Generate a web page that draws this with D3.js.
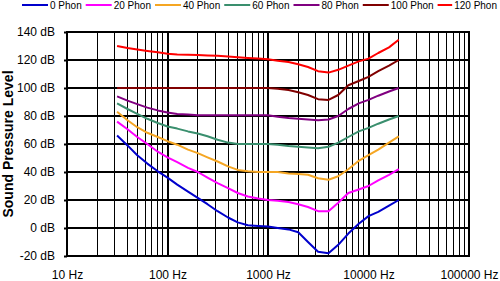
<!DOCTYPE html>
<html>
<head>
<meta charset="utf-8">
<script src="https://cdn.jsdelivr.net/npm/d3@7"></script>
<style>
  body { margin: 0; background: #fff; }
  svg { font-family: Arial, "Liberation Sans", sans-serif; }
</style>
</head>
<body>
<svg id="chart" width="500" height="281"></svg>
<script>
(function() {

    // frequencies in Hz (third octave points)
    var freqs = [31.5, 40, 50, 63, 80, 100, 125, 160, 200, 250, 315, 400, 500, 630, 800,
                 1000, 1250, 1600, 2000, 2500, 3150, 4000, 5000, 6300, 8000, 10000, 12500, 16000, 20000];

    var phon0   = [66, 59, 52, 46, 40.5, 36, 31, 26, 21.5, 17, 12, 7.5, 4, 2, 1.5,
                   1, 0, -1, -3, -10, -17, -18, -12, -4, 3, 8.5, 11.5, 16, 20];
    var phon20  = [76, 70.5, 65, 60, 54.5, 50.5, 47, 43, 40, 36, 32, 28.5, 25, 22.5, 21,
                   20, 19.5, 18.5, 17, 15, 12, 12, 18, 25, 27.5, 30, 34, 38, 42];
    var phon40  = [83, 77, 72, 68, 65, 62, 59.5, 56, 53.5, 50.5, 47.5, 44, 41.5, 40.5, 40,
                   40, 40, 39, 38.5, 38, 35.5, 34.5, 37, 42, 48, 52, 56, 61, 65.5];
    var phon60  = [89, 85, 81.5, 78, 75, 72.5, 71, 69, 67.5, 65.5, 63, 61, 60, 60, 60,
                   60, 59.5, 58.5, 58, 57.5, 57, 58, 61, 65, 69, 71.5, 74.5, 77.5, 80];
    var phon80  = [94, 91, 88.5, 86, 84, 82.5, 81.5, 81, 80.5, 80.5, 80.5, 80.5, 80.5, 80.5, 80.5,
                   80.5, 79.5, 78.5, 78, 77.5, 77, 77.5, 80, 85, 89, 91.5, 94.5, 97.5, 100];
    var phon100 = [100, 100, 100, 100, 100, 100, 100, 100, 100, 100, 100, 100, 100, 100, 100,
                   100, 99.5, 98.5, 97, 95, 92, 91.5, 95, 102, 105, 108, 112, 116, 120];
    var phon120 = [130, 128.5, 127.5, 126.5, 125.5, 124.5, 124, 123.7, 123.5, 123.3, 123, 122.5, 122, 121.5, 121,
                   120.5, 119.5, 118.5, 117, 115, 112, 111, 113, 116, 119, 121, 125, 129, 134.5];

    var names  = ["0 Phon", "20 Phon", "40 Phon", "60 Phon", "80 Phon", "100 Phon", "120 Phon"];
    var series = [phon0, phon20, phon40, phon60, phon80, phon100, phon120];
    var colors = ["#0000cc", "#ff00ff", "#f5a623", "#3a8f6e", "#800080", "#800000", "#ff0000"];

    var yTicks = [-20, 0, 20, 40, 60, 80, 100, 120, 140];
    var xTicks = [10, 100, 1000, 10000, 100000];

    var svg = d3.select("#chart");
    var left = 67, right = 469, top = 32, bottom = 256;

    var x = d3.scaleLog().domain([10, 100000]).range([left, right]);
    var y = d3.scaleLinear().domain([-20, 140]).range([bottom, top]);

    // vertical grid
    svg.append("g").selectAll("line")
        .data(x.ticks().filter(function(d) { return d > 10 && d < 100000; }))
        .enter().append("line")
        .attr("x1", function(d) { return x(d); })
        .attr("x2", function(d) { return x(d); })
        .attr("y1", top).attr("y2", bottom)
        .attr("stroke", "#000")
        .attr("stroke-width", function(d) { return xTicks.indexOf(d) >= 0 ? 2 : 1; })
        .attr("shape-rendering", "crispEdges");

    // horizontal grid
    svg.append("g").selectAll("line")
        .data(yTicks)
        .enter().append("line")
        .attr("x1", left).attr("x2", right)
        .attr("y1", function(d) { return y(d); })
        .attr("y2", function(d) { return y(d); })
        .attr("stroke", "#000")
        .attr("stroke-width", 2)
        .attr("shape-rendering", "crispEdges");

    svg.append("rect")
        .attr("x", left).attr("y", top)
        .attr("width", right - left).attr("height", bottom - top)
        .attr("fill", "none").attr("stroke", "#000").attr("stroke-width", 2)
        .attr("shape-rendering", "crispEdges");

    // axes
    var yAxis = svg.append("g")
        .attr("transform", "translate(" + left + ",0)")
        .call(d3.axisLeft(y).tickValues(yTicks).tickSize(3).tickPadding(9)
            .tickFormat(function(d) { return d + " dB"; }));
    var xAxis = svg.append("g")
        .attr("transform", "translate(0," + bottom + ")")
        .call(d3.axisBottom(x).tickValues(xTicks).tickSize(0).tickPadding(14)
            .tickFormat(function(d) { return d + " Hz"; }));

    [yAxis, xAxis].forEach(function(a) {
        a.select(".domain").remove();
        a.selectAll("line").attr("stroke", "#000").attr("stroke-width", 2);
        a.selectAll("text").attr("font-size", 12).attr("fill", "#000")
            .attr("font-family", "Arial, 'Liberation Sans', sans-serif");
    });

    svg.append("text")
        .attr("transform", "translate(13," + ((top + bottom) / 2) + ") rotate(-90)")
        .attr("text-anchor", "middle")
        .attr("font-size", 14)
        .attr("font-weight", "bold")
        .text("Sound Pressure Level");

    // curves
    var line = d3.line()
        .x(function(d, i) { return x(freqs[i]); })
        .y(function(d) { return y(d); });

    svg.append("g").selectAll("path")
        .data(series)
        .enter().append("path")
        .attr("d", line)
        .attr("fill", "none")
        .attr("stroke", function(d, i) { return colors[i]; })
        .attr("stroke-width", 2)
        .attr("stroke-linejoin", "round");

    // legend
    var legend = svg.append("g").attr("transform", "translate(0,5)");
    var lx = 22;
    names.forEach(function(n, i) {
        var g = legend.append("g").attr("transform", "translate(" + lx + ",0)");
        var t = g.append("text")
            .attr("y", 4)
            .attr("font-size", 10)
            .text(n);
        var tw = t.node().getComputedTextLength();
        // last sample gets shortened so the text still fits
        var len = Math.min(26, 497 - lx - 2 - tw);
        t.attr("x", len + 2);
        g.append("line")
            .attr("x1", 0).attr("x2", len).attr("y1", 0).attr("y2", 0)
            .attr("stroke", colors[i]).attr("stroke-width", 2);
        lx += len + 2 + tw + 4;
    });

})();
</script>
</body>
</html>
